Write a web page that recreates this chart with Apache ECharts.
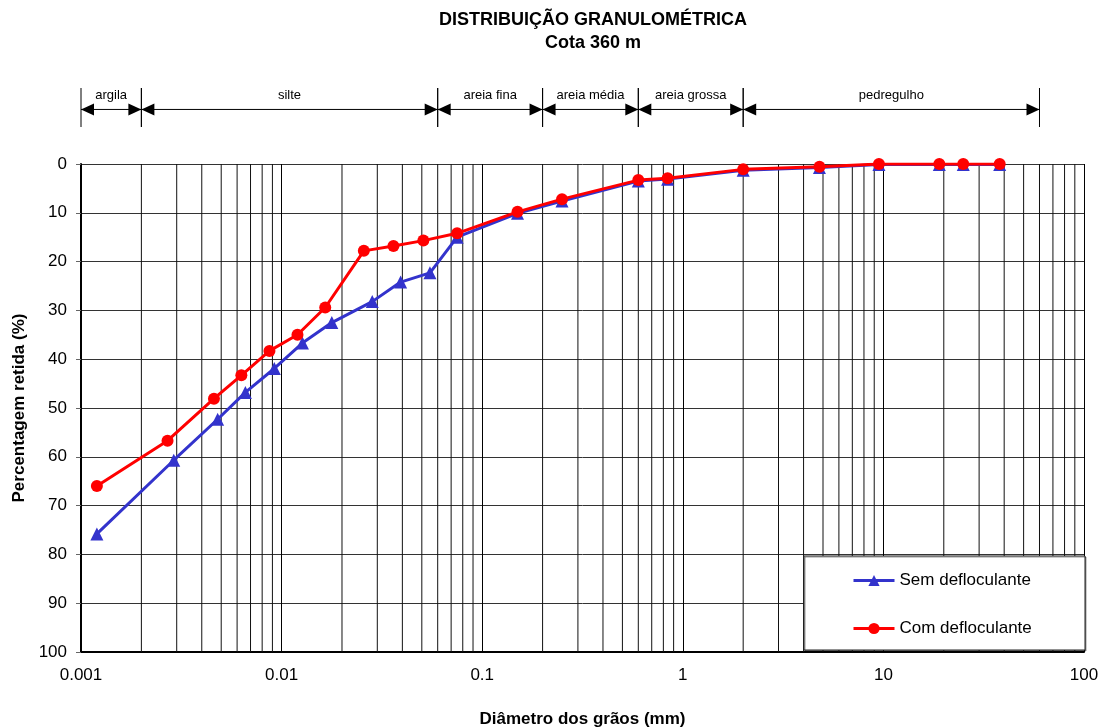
<!DOCTYPE html>
<html lang="pt">
<head>
<meta charset="utf-8">
<title>Distribuição granulométrica</title>
<script src="https://cdn.jsdelivr.net/npm/echarts@6/dist/echarts.min.js"></script>
<style>
  html, body { margin: 0; padding: 0; background: #fff; }
  #chart { width: 1108px; height: 728px; }
</style>
</head>
<body>
<div id="chart"></div>
<script>
// Sieve + sedimentation results, Cota 360 m
const diamSem = [0.0012, 0.0029, 0.0048, 0.0066, 0.0092, 0.0127, 0.0178, 0.0283, 0.0392, 0.0549,
                 0.075, 0.15, 0.25, 0.6, 0.84, 2.0, 4.8, 9.5, 19, 25, 38];
const retidaSem = [75.8, 60.7, 52.3, 46.8, 41.9, 36.7, 32.5, 28.2, 24.2, 22.3,
                   15.0, 10.1, 7.6, 3.5, 3.1, 1.3, 0.7, 0.1, 0.1, 0.1, 0.1];

const diamCom = [0.0012, 0.0027, 0.0046, 0.0063, 0.0087, 0.0120, 0.0165, 0.0257, 0.0361, 0.0509,
                 0.075, 0.15, 0.25, 0.6, 0.84, 2.0, 4.8, 9.5, 19, 25, 38];
const retidaCom = [66.0, 56.7, 48.1, 43.3, 38.3, 35.0, 29.4, 17.8, 16.8, 15.7,
                   14.2, 9.8, 7.2, 3.3, 2.9, 1.1, 0.55, 0, 0, 0, 0];

// Soil fraction limits (mm) and their names
const zoneBounds = [0.001, 0.002, 0.06, 0.2, 0.6, 2, 60];
const zoneNames = ['argila', 'silte', 'areia fina', 'areia média', 'areia grossa', 'pedregulho'];

const xTickLabels = ['0.001', '0.01', '0.1', '1', '10', '100'];
const yTickLabels = ['0', '10', '20', '30', '40', '50', '60', '70', '80', '90', '100'];

const FONT = 'Liberation Sans, Arial, sans-serif';

// intermediate log-cycle lines (2..9 in each decade)
const minorLines = [];
for (let e = -3; e < 2; e++) {
  for (let k = 2; k <= 9; k++) minorLines.push([Number((k * Math.pow(10, e)).toPrecision(3)), 0]);
}

const semData = diamSem.map((d, i) => [d, retidaSem[i]]);
const comData = diamCom.map((d, i) => [d, retidaCom[i]]);
const zoneData = zoneNames.map((n, i) => ({ name: n, value: [zoneBounds[i], zoneBounds[i + 1]] }));

const ARROW_LEVEL = 0.45;

function renderZone(params, api) {
  const a = api.coord([api.value(0), ARROW_LEVEL]);
  const b = api.coord([api.value(1), ARROW_LEVEL]);
  const top = api.coord([api.value(0), 1])[1];
  const bot = api.coord([api.value(0), 0])[1];
  const y = a[1];
  const L = 13, H = 6;
  const st = { stroke: '#000', lineWidth: 1 };
  return {
    type: 'group',
    children: [
      { type: 'line', shape: { x1: a[0], y1: y, x2: b[0], y2: y }, style: st },
      { type: 'polygon', shape: { points: [[a[0], y], [a[0] + L, y - H], [a[0] + L, y + H]] }, style: { fill: '#000' } },
      { type: 'polygon', shape: { points: [[b[0], y], [b[0] - L, y - H], [b[0] - L, y + H]] }, style: { fill: '#000' } },
      { type: 'line', shape: { x1: a[0], y1: top, x2: a[0], y2: bot }, style: st },
      { type: 'line', shape: { x1: b[0], y1: top, x2: b[0], y2: bot }, style: st },
      {
        type: 'text',
        style: {
          text: zoneNames[params.dataIndex], x: (a[0] + b[0]) / 2, y: y - 8,
          align: 'center', verticalAlign: 'bottom', fill: '#000',
          fontSize: 13, fontFamily: FONT
        }
      }
    ]
  };
}

function renderMinor(params, api) {
  const p0 = api.coord([api.value(0), 0]);
  const p1 = api.coord([api.value(0), 100]);
  return {
    type: 'line',
    shape: { x1: p0[0], y1: p0[1], x2: p1[0], y2: p1[1] },
    style: { stroke: '#111', lineWidth: 1 }
  };
}

const chart = echarts.init(document.getElementById('chart'), null, { renderer: 'canvas' });

chart.setOption({
  animation: false,
  backgroundColor: '#fff',
  textStyle: { fontFamily: FONT },
  title: {
    text: 'DISTRIBUIÇÃO GRANULOMÉTRICA\nCota 360 m',
    left: 588, top: 4, textAlign: 'center',
    textStyle: { fontSize: 18, fontWeight: 'bold', color: '#000', lineHeight: 23, fontFamily: FONT }
  },
  grid: [
    { left: 81, right: 24, top: 164, bottom: 76, outerBoundsMode: 'none', containLabel: false },
    { left: 81, right: 24, top: 88, height: 39, outerBoundsMode: 'none', containLabel: false }
  ],
  xAxis: [
    {
      gridIndex: 0, type: 'log', logBase: 10, min: 0.001, max: 100,
      name: 'Diâmetro dos grãos (mm)', nameLocation: 'middle', nameGap: 59,
      nameTextStyle: { fontSize: 17, fontWeight: 'bold', color: '#000', fontFamily: FONT },
      axisLine: { onZero: false, lineStyle: { color: '#000', width: 2 } },
      axisTick: { show: false },
      axisLabel: {
        fontSize: 17, color: '#000', margin: 15, fontFamily: FONT,
        formatter: v => {
          const i = Math.round(Math.log10(v)) + 3;
          return xTickLabels[i] !== undefined ? xTickLabels[i] : '';
        }
      },
      splitLine: { show: true, lineStyle: { color: '#000', width: 1 } }
    },
    { gridIndex: 1, type: 'log', logBase: 10, min: 0.001, max: 100, show: false }
  ],
  yAxis: [
    {
      gridIndex: 0, type: 'value', min: 0, max: 100, interval: 10, inverse: true,
      name: 'Percentagem retida (%)', nameLocation: 'middle', nameGap: 53,
      nameTextStyle: { fontSize: 17, fontWeight: 'bold', color: '#000', fontFamily: FONT },
      axisLine: { show: true, lineStyle: { color: '#000', width: 2 } },
      axisTick: { show: true, length: 5, lineStyle: { color: '#666' } },
      axisLabel: {
        fontSize: 17, color: '#000', margin: 14, fontFamily: FONT,
        formatter: v => yTickLabels[Math.round(v / 10)]
      },
      splitLine: { show: true, lineStyle: { color: '#333', width: 1 } }
    },
    { gridIndex: 1, type: 'value', min: 0, max: 1, show: false }
  ],
  legend: {
    orient: 'vertical', left: 852, top: 572, z: 20, padding: 0,
    itemWidth: 41, itemHeight: 14, itemGap: 31,
    data: ['Sem defloculante', 'Com defloculante'],
    lineStyle: { width: 3 },
    textStyle: { fontSize: 17, color: '#000', fontFamily: FONT },
    selectedMode: false
  },
  graphic: [{
    type: 'rect', z: 15,
    shape: { x: 804, y: 556, width: 281, height: 94 },
    style: {
      fill: '#fff', stroke: '#222', lineWidth: 1,
      shadowColor: 'rgba(0,0,0,0.4)', shadowOffsetX: 1, shadowOffsetY: 1, shadowBlur: 0
    }
  }],
  series: [
    {
      name: 'grade', type: 'custom', xAxisIndex: 0, yAxisIndex: 0, z: 1,
      silent: true, renderItem: renderMinor, data: minorLines
    },
    {
      name: 'frações', type: 'custom', xAxisIndex: 1, yAxisIndex: 1,
      silent: true, renderItem: renderZone, data: zoneData
    },
    {
      name: 'Sem defloculante', type: 'line', xAxisIndex: 0, yAxisIndex: 0, z: 3,
      data: semData, symbol: 'triangle', symbolSize: 13,
      itemStyle: { color: '#3333CC' }, lineStyle: { color: '#3333CC', width: 3 }
    },
    {
      name: 'Com defloculante', type: 'line', xAxisIndex: 0, yAxisIndex: 0, z: 4,
      data: comData, symbol: 'circle', symbolSize: 12,
      itemStyle: { color: '#FF0000' }, lineStyle: { color: '#FF0000', width: 3 }
    }
  ]
});
</script>
</body>
</html>
